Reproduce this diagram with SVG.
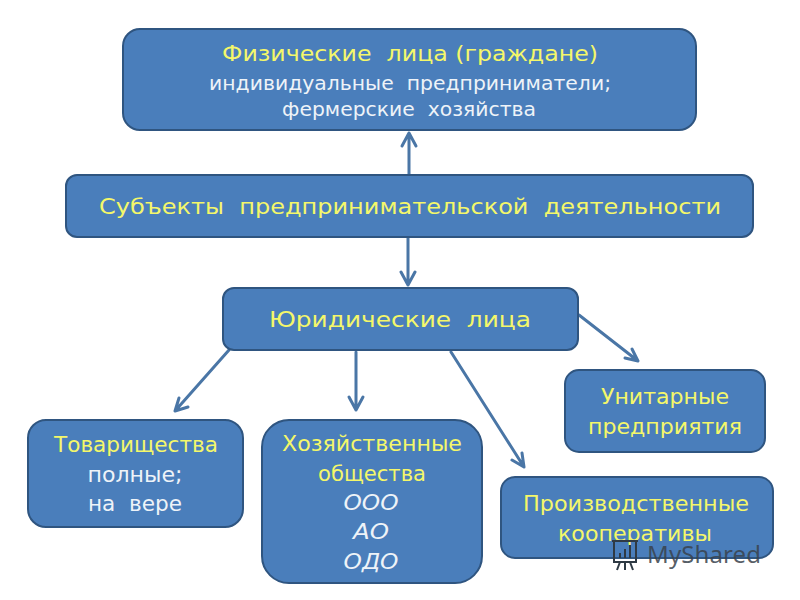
<svg xmlns="http://www.w3.org/2000/svg" width="800" height="600" viewBox="0 0 800 600">
<style>
.box{fill:#4a7ebb;stroke:#2f5580;stroke-width:2}
text{font-family:"DejaVu Sans","Noto Sans",sans-serif;text-anchor:middle;white-space:pre}
.y{fill:#f4f76a;font-size:22px}
.w{fill:#eef3f8;font-size:19px}
.w2{fill:#eef3f8;font-size:22px}
.i{fill:#eef3f8;font-size:22px;font-style:italic}
.c{fill:none;stroke:#4a76a6;stroke-width:3;stroke-linecap:round;stroke-linejoin:round}
.wm{fill:#39424c;fill-opacity:.85;font-size:24px;text-anchor:start;font-family:"Noto Sans",sans-serif}
.ic{fill:none;stroke:#2f3a44;stroke-width:2}
</style>
<rect width="800" height="600" fill="#fff"/>
<g id="connectors">
<path class="c" d="M409 174V133M402 146L409 133L416 146"/>
<path class="c" d="M408 238V285M401 272L408 285L415 272"/>
<path class="c" d="M229 350L175 411M179 398L175 411L188 407"/>
<path class="c" d="M356 352V410M349 397L356 410L363 397"/>
<path class="c" d="M451 352L524 467M522 453L524 467L512 460"/>
<path class="c" d="M579 315L638 361M625 358L638 361L632 349"/>
</g>
<g id="node-individuals">
<rect class="box" x="123" y="29" width="573" height="101" rx="17"/>
<text class="y" x="410" y="61" textLength="376" lengthAdjust="spacingAndGlyphs">Физические  лица (граждане)</text>
<text class="w" x="410" y="90" textLength="402" lengthAdjust="spacingAndGlyphs">индивидуальные  предприниматели;</text>
<text class="w" x="409" y="116" textLength="254" lengthAdjust="spacingAndGlyphs">фермерские  хозяйства</text>
</g>
<g id="node-subjects">
<rect class="box" x="66" y="175" width="687" height="62" rx="11"/>
<text class="y" x="410" y="214" textLength="622" lengthAdjust="spacingAndGlyphs">Субъекты  предпринимательской  деятельности</text>
</g>
<g id="node-legal">
<rect class="box" x="223" y="288" width="355" height="62" rx="11"/>
<text class="y" x="400" y="327" textLength="262" lengthAdjust="spacingAndGlyphs">Юридические  лица</text>
</g>
<g id="node-partnerships">
<rect class="box" x="28" y="420" width="215" height="107" rx="18"/>
<text class="y" x="136" y="452" textLength="164" lengthAdjust="spacingAndGlyphs">Товарищества</text>
<text class="w2" x="135" y="482" textLength="95" lengthAdjust="spacingAndGlyphs">полные;</text>
<text class="w2" x="135" y="511" textLength="94" lengthAdjust="spacingAndGlyphs">на  вере</text>
</g>
<g id="node-companies">
<rect class="box" x="262" y="420" width="220" height="163" rx="27"/>
<text class="y" x="372" y="451" textLength="180" lengthAdjust="spacingAndGlyphs">Хозяйственные</text>
<text class="y" x="372" y="481" textLength="108" lengthAdjust="spacingAndGlyphs">общества</text>
<text class="i" x="371" y="510" textLength="55" lengthAdjust="spacingAndGlyphs">ООО</text>
<text class="i" x="371" y="539" textLength="36" lengthAdjust="spacingAndGlyphs">АО</text>
<text class="i" x="371" y="569" textLength="55" lengthAdjust="spacingAndGlyphs">ОДО</text>
</g>
<g id="node-unitary">
<rect class="box" x="565" y="370" width="200" height="82" rx="14"/>
<text class="y" x="665" y="404" textLength="128" lengthAdjust="spacingAndGlyphs">Унитарные</text>
<text class="y" x="665" y="434" textLength="154" lengthAdjust="spacingAndGlyphs">предприятия</text>
</g>
<g id="node-cooperatives">
<rect class="box" x="501" y="477" width="272" height="81" rx="14"/>
<text class="y" x="636" y="511" textLength="226" lengthAdjust="spacingAndGlyphs">Производственные</text>
<text class="y" x="635" y="541" textLength="154" lengthAdjust="spacingAndGlyphs">кооперативы</text>
</g>
<g id="watermark">
<path class="ic" d="M612 541H638M614 541V562H636V541M620 562L617 570M625 562V570M630 562L633 570"/>
<path class="ic" d="M620 558V553M625 558V549M630 558V545"/>
<text class="wm" x="647" y="563" textLength="114" lengthAdjust="spacing">MyShared</text>
</g>
</svg>
